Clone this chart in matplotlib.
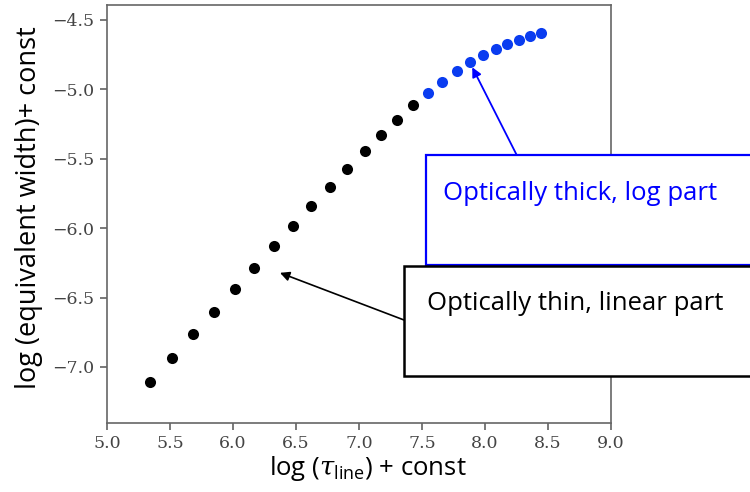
import matplotlib.pyplot as plt
from matplotlib.patches import Rectangle

# curve of growth: log(tau) vs log(W)
thin_x = [5.341, 5.518, 5.683, 5.852, 6.013, 6.169, 6.325, 6.476, 6.621,
          6.770, 6.907, 7.048, 7.177, 7.299, 7.429]
thin_y = [-7.108, -6.939, -6.766, -6.603, -6.442, -6.286, -6.132, -5.987, -5.840,
          -5.706, -5.574, -5.445, -5.331, -5.221, -5.115]
thick_x = [7.550, 7.661, 7.775, 7.879, 7.986, 8.085, 8.177, 8.270, 8.360, 8.444]
thick_y = [-5.024, -4.945, -4.868, -4.805, -4.750, -4.707, -4.673, -4.642, -4.618, -4.594]

xticks = [5.0, 5.5, 6.0, 6.5, 7.0, 7.5, 8.0, 8.5, 9.0]
yticks = [-7.0, -6.5, -6.0, -5.5, -5.0, -4.5]

plt.rcParams['mathtext.fontset'] = 'custom'
plt.rcParams['mathtext.rm'] = 'Open Sans'
plt.rcParams['mathtext.it'] = 'DejaVu Serif:italic'

W, H = 750, 492
fig = plt.figure(figsize=(7.5, 4.92), dpi=100)
ax = fig.add_axes([107/W, 1 - 422.7/H, (611-107)/W, (422.7-5)/H])

ax.scatter(thin_x, thin_y, s=64, color='black', zorder=3, linewidths=0)
ax.scatter(thick_x, thick_y, s=64, color='#0a3cf0', zorder=3, linewidths=0)

ax.set_xlim(5.0, 9.0)
ax.set_ylim(-7.402, -4.392)
ax.set_xticks(xticks)
ax.set_yticks(yticks)
ax.set_xticklabels(['%.1f' % t for t in xticks])
ax.set_yticklabels(['\u2212%.1f' % abs(t) for t in yticks])
for lbl in ax.get_xticklabels() + ax.get_yticklabels():
    lbl.set_family('DejaVu Serif')
    lbl.set_fontsize(12.5)
    lbl.set_color('#444444')
ax.tick_params(direction='out', length=5, width=1.1, color='#555555', pad=4)
for sp in ax.spines.values():
    sp.set_color('#666666')
    sp.set_linewidth(1.2)

ax.set_xlabel(r'log ($\tau_{\mathrm{line}}$) + const', family='Open Sans', fontsize=18.5)
ax.set_ylabel('log (equivalent width)+ const', family='Open Sans', fontsize=19.5)
ax.xaxis.set_label_coords(0.517, -0.075)
ax.yaxis.set_label_coords(-0.127, 0.515)

# boxes laid over the plot, in figure pixels
def fig_rect(x0, y0, x1, y1, color, lw, z):
    r = Rectangle((x0/W, 1 - y1/H), (x1-x0)/W, (y1-y0)/H, transform=fig.transFigure,
                  facecolor='white', edgecolor=color, linewidth=lw, zorder=z, clip_on=False)
    fig.patches.append(r)

fig_rect(425.7, 155, 760, 265, 'blue', 1.6, 5)
fig_rect(404, 265.7, 760, 375.7, 'black', 1.8, 6)
fig.text(443/W, 1 - 193/H, 'Optically thick, log part', color='blue', family='Open Sans',
         fontsize=18.5, va='center', ha='left', zorder=7)
fig.text(427/W, 1 - 303/H, 'Optically thin, linear part', color='black', family='Open Sans',
         fontsize=18.5, va='center', ha='left', zorder=7)

ax.annotate('', xy=(thick_x[3], thick_y[3]), xycoords='data',
            xytext=(516.7, H - 155), textcoords='figure pixels',
            arrowprops=dict(arrowstyle='-|>', color='blue', lw=1.3, shrinkA=0, shrinkB=4,
                            mutation_scale=14), zorder=8, annotation_clip=False)
ax.annotate('', xy=(6.373, -6.322), xycoords='data',
            xytext=(404, H - 320), textcoords='figure pixels',
            arrowprops=dict(arrowstyle='-|>', color='black', lw=1.2, shrinkA=0, shrinkB=0,
                            mutation_scale=14), zorder=8, annotation_clip=False)

fig.savefig('out.png', dpi=100)
